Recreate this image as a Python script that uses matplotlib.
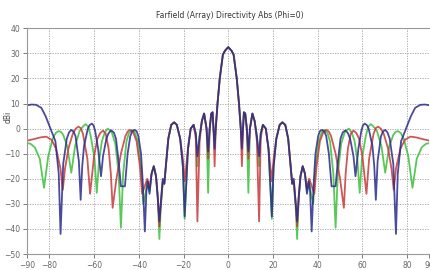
import matplotlib
matplotlib.use("Agg")
import matplotlib.pyplot as plt
import numpy as np

# Directivity cuts (right half, theta >= 0); the pattern is symmetric
blue_ang = [0, 1.5, 2.4, 3.8, 4.8, 5.6, 6.1, 6.6, 7.0, 7.6, 8.3, 9.0, 9.7, 10.8, 11.8, 12.8,
            13.8, 14.5, 15.5, 16.8, 18.0, 19.5, 20.3, 21.5, 23.0, 24.2, 25.5, 26.8, 27.8, 28.6,
            29.3, 30.2, 30.8, 31.5, 32.3, 33.3, 34.3, 35.2, 36.0, 36.6, 37.3, 38.2, 39.0, 40.2,
            41.0, 42.0, 43.0, 43.8, 45.0, 46.2, 48.0, 48.8, 50.2, 51.2, 52.4, 53.5, 54.5, 56.0,
            56.9, 58.2, 59.5, 60.2, 61.0, 62.0, 62.8, 64.5, 65.3, 66.0, 66.8, 68.3, 69.2, 70.2,
            71.2, 72.2, 73.8, 75.0, 75.8, 77.3, 79.7, 81.7, 83.6, 86.0, 88.0, 90.0]
blue_db = [32.5, 31, 29.5, 20, 10, 0, -8, 0, 6.5, 6, 0, -9, 0, 6, 3, -3,
           -11, -2, 1.5, 0, -8, -35, -15, -4, 1.5, 2.5, 1.5, -4, -14, -22,
           -20, -30, -37, -28, -19, -15, -18, -26, -21, -25, -41, -22, -10, -3,
           -1, -0.5, -1.2, -3, -10, -23, -23, -15, -4, -1.5, -0.7, -1.8, -4, -11,
           -19, -8, -1, 1.2, 2, 1.4, 0, -7, -15, -28.4, -13, -3, -1.2, -0.5,
           -1.5, -4, -14, -42, -18, -5, 0.5, 5, 8.3, 9.5, 9.6, 9.3]

red_ang = [0, 1.5, 2.4, 3.8, 4.8, 5.6, 6.1, 6.6, 7.0, 7.6, 8.3, 9.0, 9.7, 10.8, 11.8, 12.8,
           13.8, 14.5, 15.5, 16.8, 18.0, 19.5, 20.3, 21.5, 23.0, 24.2, 25.5, 26.8, 27.8, 28.6,
           29.3, 30.2, 30.8, 31.5, 32.3, 33.3, 34.3, 35.2, 36.2, 37.0, 38.5, 39.5, 41.0, 42.5,
           44.0, 45.0, 46.0, 48.0, 50.0, 51.7, 52.5, 53.5, 54.8, 56.0, 57.3, 58.5, 60.0, 61.8,
           63.0, 65.0, 66.0, 67.0, 68.2, 69.5, 71.5, 73.0, 74.0, 75.0, 77.0, 79.0, 81.4, 84.0,
           87.0, 90.0]
red_db = [32.5, 31, 29.5, 20, 10, 0, -15, 0, 6.5, 6, 0, -12, 0, 6, 3, -5,
          -37, -4, 1.5, 0, -8, -21, -12, -4, 1.5, 2.5, 1.5, -4, -14, -22,
          -21, -30, -39, -27, -19, -15, -18, -24, -20, -22, -26, -15, -5, -1.5,
          -0.5, -1.2, -3, -10, -20, -31.6, -18, -8, -2, -0.8, -1.8, -4, -11, -26,
          -12, -2, 0.2, 0.8, 0, -2, -8, -16, -24.4, -16, -8, -4.5, -3.2, -3.5,
          -4.2, -4.8]

green_ang = [0, 1.5, 2.4, 3.8, 4.8, 5.6, 6.1, 6.6, 7.0, 7.6, 8.3, 9.0, 9.7, 10.8, 11.8, 12.8,
             13.8, 14.5, 15.5, 16.8, 18.0, 19.5, 20.3, 21.5, 23.0, 24.2, 25.5, 26.8, 27.8, 28.6,
             29.3, 30.2, 30.8, 31.5, 32.3, 33.3, 34.3, 35.2, 36.2, 37.0, 38.0, 39.0, 40.5, 41.8,
             43.2, 44.4, 45.5, 47.0, 48.0, 49.0, 50.5, 52.2, 53.9, 55.2, 56.5, 57.8, 58.8, 59.8,
             61.5, 62.6, 63.8, 65.2, 66.5, 68.5, 70.2, 72.0, 73.8, 74.8, 75.9, 77.2, 78.5, 80.5,
             82.4, 84.3, 86.5, 88.5, 90.0]
green_db = [32.5, 31, 29.5, 20, 10, 0, -5, 0, 6.5, 6, 0, -25.6, 0, 6, 3, -3,
            -15, -2, 1.5, 0, -8, -36, -15, -4, 1.5, 2.5, 1.5, -4, -14, -22,
            -22, -32, -44, -28, -19, -15, -18, -25, -21, -26, -30, -15, -5, -1.5,
            -0.5, -1.8, -5, -18, -39.5, -18, -6, -1.2, 0, -1.5, -5, -13, -25.6, -12,
            -3, 0.8, 1.8, 0.6, -1, -7, -17.6, -7, -2.5, -1.3, -1, -1.8, -4, -11,
            -23.6, -12, -7.5, -6, -5.8]

x_ticks = [-90, -80, -60, -40, -20, 0, 20, 40, 60, 80, 90]
y_ticks = [-50, -40, -30, -20, -10, 0, 10, 20, 30, 40]


def mirror(ang, db):
    ang = np.asarray(ang, dtype=float)
    db = np.asarray(db, dtype=float)
    return np.concatenate([-ang[::-1], ang[1:]]), np.concatenate([db[::-1], db[1:]])


fig = plt.figure(figsize=(4.31, 2.70), dpi=100)
ax = fig.add_axes([27 / 431, 1 - 254 / 270, (429.5 - 27) / 431, (254 - 28.3) / 270])

for ang, db, col in [(green_ang, green_db, '#3cbf3c'),
                     (red_ang, red_db, '#c83a3a'),
                     (blue_ang, blue_db, '#2b2b8c')]:
    x, y = mirror(ang, db)
    ax.plot(x, y, color=col, lw=1.3, alpha=0.85, solid_joinstyle='round')

ax.set_xlim(-90, 90)
ax.set_ylim(-50, 40)
ax.set_xticks(x_ticks)
ax.set_yticks(y_ticks)
for v in [-80, -60, -40, -20, 0, 20, 40, 60, 80]:
    ax.axvline(v, color='#a0a0a0', ls=(0, (1.5, 1.5)), lw=0.6, zorder=0)
for v in y_ticks[1:-1]:
    ax.axhline(v, color='#a0a0a0', ls=(0, (1.5, 1.5)), lw=0.6, zorder=0)

ax.tick_params(labelsize=5.5, colors='#666666', length=3, width=0.6, pad=2)
for s in ax.spines.values():
    s.set_color('#999999')
    s.set_linewidth(0.8)
ax.spines['right'].set_visible(False)

fig.text(230 / 431, 1 - 15 / 270, 'Farfield (Array) Directivity Abs (Phi=0)',
         ha='center', va='center', fontsize=5.5, color='#333333')
fig.text(8 / 431, 1 - 117 / 270, 'dBi', rotation=90, ha='center', va='center',
         fontsize=5.5, color='#444444')

fig.savefig('out.png', dpi=100)
